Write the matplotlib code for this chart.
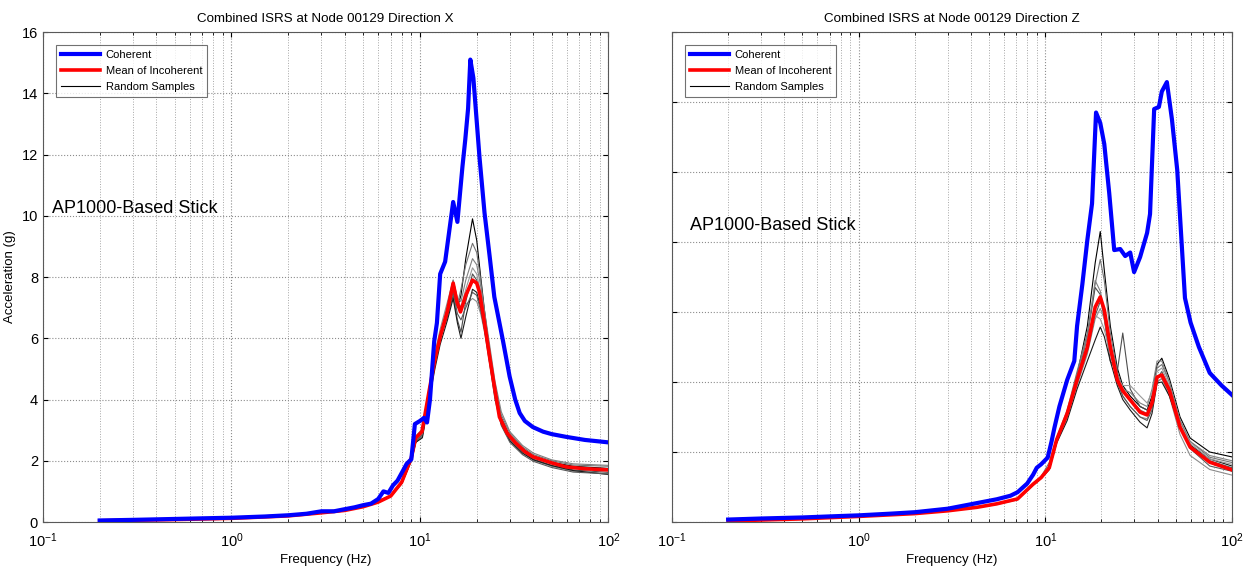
import matplotlib
matplotlib.use("Agg")
import matplotlib.pyplot as plt
from matplotlib.ticker import LogLocator, MultipleLocator, NullFormatter

plt.rcParams['font.family'] = ['Liberation Sans', 'DejaVu Sans']

# ---- Direction X ----
freq_coh_x = [0.2, 0.3, 0.5, 0.7, 1.0, 1.5, 2.0, 2.5, 3.0, 3.5, 4.0, 4.5, 5.0, 5.5, 6.0, 6.4, 6.8,
              7.2, 7.6, 8.0, 8.5, 9.0, 9.4, 10.0, 10.5, 10.9, 11.3, 11.9, 12.3, 12.8, 13.6, 14.3,
              15.0, 15.8, 16.8, 17.4, 18.0, 18.5, 19.2, 20.7, 22.0, 23.4, 24.8, 27.5, 29.9, 32.0,
              33.8, 36.0, 39.7, 45.0, 50.0, 59.7, 75.0, 100.0]
coh_x = [0.05, 0.07, 0.1, 0.12, 0.14, 0.18, 0.22, 0.27, 0.35, 0.35, 0.42, 0.48, 0.55, 0.6, 0.75,
         1.0, 0.95, 1.2, 1.35, 1.6, 1.9, 2.05, 3.2, 3.3, 3.4, 3.25, 4.0, 5.9, 6.5, 8.1, 8.5, 9.5,
         10.45, 9.8, 11.6, 12.5, 13.5, 15.1, 14.5, 11.9, 10.1, 8.7, 7.35, 5.95, 4.75, 4.0,
         3.56, 3.3, 3.1, 2.95, 2.87, 2.78, 2.68, 2.6]

freq_mean_x = [0.2, 0.5, 1.0, 2.0, 3.0, 4.0, 5.0, 6.0, 7.0, 8.0, 9.0, 9.5, 10.25, 11.2, 12.0, 12.8,
               14.0, 15.0, 15.7, 16.4, 17.5, 19.0, 20.0, 20.7, 22.0, 23.4, 25.0, 26.4, 29.0, 32.2,
               36.0, 39.7, 50.0, 59.7, 75.0, 100.0]
mean_x = [0.04, 0.08, 0.12, 0.2, 0.3, 0.38, 0.5, 0.65, 0.85, 1.3, 2.1, 2.75, 2.95, 4.3, 5.3, 6.05,
          6.9, 7.8, 7.2, 6.86, 7.4, 7.9, 7.8, 7.5, 6.5, 5.4, 4.3, 3.43, 2.9, 2.58, 2.3, 2.13, 1.93,
          1.8, 1.74, 1.7]

freq_samp_x = [0.2, 1.0, 3.0, 5.0, 7.0, 8.0, 9.0, 9.5, 10.3, 11.2, 12.0, 12.8, 14.0, 15.0, 15.8,
               16.5, 17.5, 19.0, 20.0, 21.0, 22.0, 23.4, 25.0, 27.0, 30.0, 35.0, 40.0, 50.0, 65.0, 100.0]
samples_x = [
    [0.04, 0.12, 0.3, 0.5, 0.85, 1.3, 2.1, 2.7, 2.9, 4.2, 5.2, 6.0, 6.9, 7.6, 7.0, 7.4, 8.6, 9.9, 9.2, 8.0, 6.9, 5.6, 4.4, 3.4, 2.8, 2.4, 2.15, 1.95, 1.82, 1.75],
    [0.04, 0.12, 0.3, 0.5, 0.85, 1.3, 2.1, 2.8, 3.0, 4.3, 5.3, 6.1, 7.0, 7.7, 7.1, 7.6, 8.4, 9.1, 8.8, 7.9, 6.8, 5.6, 4.4, 3.5, 2.9, 2.45, 2.2, 2.0, 1.86, 1.82],
    [0.04, 0.12, 0.3, 0.5, 0.84, 1.25, 2.0, 2.6, 2.8, 4.1, 5.2, 6.0, 6.7, 7.4, 6.6, 6.2, 7.2, 8.1, 7.9, 7.3, 6.5, 5.4, 4.2, 3.3, 2.7, 2.3, 2.05, 1.85, 1.7, 1.62],
    [0.04, 0.12, 0.3, 0.5, 0.86, 1.3, 2.1, 2.75, 3.0, 4.4, 5.5, 6.3, 7.2, 7.9, 7.3, 7.0, 7.1, 7.3, 7.2, 6.8, 6.2, 5.2, 4.1, 3.2, 2.65, 2.25, 2.02, 1.82, 1.66, 1.58],
    [0.04, 0.12, 0.29, 0.49, 0.83, 1.25, 2.0, 2.6, 2.75, 4.0, 5.0, 5.8, 6.6, 7.3, 6.5, 6.0, 6.7, 7.6, 7.5, 7.0, 6.3, 5.3, 4.1, 3.2, 2.65, 2.25, 2.03, 1.84, 1.68, 1.55],
    [0.04, 0.12, 0.31, 0.51, 0.86, 1.32, 2.15, 2.8, 3.05, 4.4, 5.4, 6.1, 7.1, 7.9, 7.3, 7.2, 7.9, 8.6, 8.4, 7.7, 6.9, 5.8, 4.6, 3.6, 2.95, 2.5, 2.25, 2.03, 1.9, 1.85],
    [0.04, 0.12, 0.3, 0.5, 0.85, 1.28, 2.05, 2.65, 2.85, 4.2, 5.2, 6.0, 6.8, 7.5, 6.8, 6.6, 7.0, 7.5, 7.4, 6.9, 6.3, 5.2, 4.0, 3.15, 2.6, 2.2, 1.98, 1.78, 1.63, 1.57],
    [0.04, 0.12, 0.3, 0.5, 0.85, 1.3, 2.1, 2.7, 2.9, 4.3, 5.3, 6.1, 7.0, 7.7, 7.2, 7.0, 7.6, 8.3, 8.1, 7.5, 6.7, 5.5, 4.3, 3.35, 2.75, 2.35, 2.1, 1.9, 1.75, 1.68],
]

# ---- Direction Z ----
freq_coh_z = [0.2, 0.3, 0.5, 0.7, 1.0, 1.5, 2.0, 3.0, 4.3, 5.5, 6.5, 7.1, 8.0, 8.6, 9.0, 9.5, 10.3,
              10.8, 11.2, 11.9, 13.1, 14.3, 14.8, 15.8, 16.8, 17.8, 18.7, 19.7, 20.7, 22.0, 23.4,
              25.2, 26.8, 28.5, 29.9, 32.2, 35.1, 36.4, 38.3, 40.6, 42.1, 44.8, 47.7, 50.9, 56.0,
              60.0, 66.5, 76.0, 88.0, 100.0]
coh_z = [0.07, 0.1, 0.13, 0.16, 0.19, 0.24, 0.28, 0.38, 0.54, 0.65, 0.75, 0.85, 1.1, 1.35, 1.55,
         1.65, 1.84, 2.3, 2.7, 3.3, 4.06, 4.6, 5.6, 6.8, 8.06, 9.1, 11.7, 11.4, 10.8, 9.4, 7.77,
         7.8, 7.6, 7.7, 7.14, 7.57, 8.26, 8.8, 11.8, 11.86, 12.3, 12.57, 11.5, 10.06, 6.4, 5.7,
         5.0, 4.26, 3.9, 3.63]

freq_z = [0.2, 0.5, 1.0, 2.0, 3.0, 4.3, 5.5, 7.1, 8.6, 9.5, 10.5, 11.5, 13.1, 14.8, 16.8, 18.5,
          19.7, 20.7, 22.3, 24.3, 26.0, 28.5, 32.2, 35.1, 37.3, 39.7, 42.1, 46.2, 52.7, 59.7, 76.0, 100.0]
mean_z = [0.03, 0.09, 0.16, 0.24, 0.32, 0.42, 0.52, 0.66, 1.08, 1.27, 1.55, 2.35, 3.1, 4.06, 5.0,
          6.14, 6.43, 6.06, 5.0, 4.06, 3.75, 3.49, 3.14, 3.06, 3.4, 4.14, 4.2, 3.77, 2.71, 2.14, 1.71, 1.49]
samples_z = [
    [0.03, 0.09, 0.16, 0.24, 0.32, 0.42, 0.52, 0.66, 1.05, 1.25, 1.6, 2.3, 3.1, 4.2, 5.6, 7.4, 8.3, 7.2, 5.6, 4.4, 3.9, 3.6, 3.3, 3.2, 3.6, 4.5, 4.68, 4.1, 3.0, 2.4, 2.0, 1.86],
    [0.03, 0.09, 0.16, 0.24, 0.32, 0.42, 0.52, 0.66, 1.08, 1.3, 1.7, 2.4, 3.2, 4.3, 5.4, 6.8, 7.5, 6.9, 5.4, 4.3, 3.8, 3.5, 3.2, 3.1, 3.5, 4.4, 4.5, 4.0, 2.9, 2.3, 1.85, 1.7],
    [0.03, 0.09, 0.16, 0.24, 0.32, 0.42, 0.52, 0.66, 1.06, 1.25, 1.5, 2.3, 3.0, 4.1, 5.3, 6.7, 6.5, 5.8, 4.6, 4.3, 5.4, 3.8, 3.3, 3.2, 3.4, 4.0, 4.1, 3.7, 2.7, 2.15, 1.75, 1.55],
    [0.03, 0.08, 0.15, 0.23, 0.31, 0.41, 0.5, 0.63, 1.05, 1.25, 1.5, 2.3, 3.0, 3.9, 4.8, 5.8, 6.1, 5.8, 4.9, 4.0, 3.6, 3.3, 3.0, 2.95, 3.3, 4.0, 4.1, 3.6, 2.5, 1.9, 1.5, 1.34],
    [0.03, 0.09, 0.16, 0.24, 0.32, 0.42, 0.52, 0.65, 1.07, 1.25, 1.5, 2.25, 2.9, 3.8, 4.6, 5.2, 5.57, 5.3, 4.6, 3.9, 3.5, 3.2, 2.85, 2.69, 3.1, 3.97, 4.0, 3.6, 2.7, 2.2, 1.8, 1.6],
    [0.03, 0.09, 0.16, 0.24, 0.32, 0.42, 0.52, 0.66, 1.08, 1.28, 1.6, 2.4, 3.1, 4.2, 5.3, 6.9, 6.6, 6.0, 5.1, 4.2, 3.8, 3.7, 3.4, 3.3, 3.8, 4.6, 4.6, 4.0, 2.9, 2.3, 1.9, 1.75],
    [0.03, 0.09, 0.16, 0.24, 0.32, 0.42, 0.52, 0.66, 1.08, 1.27, 1.55, 2.35, 3.05, 4.0, 4.9, 5.9, 6.3, 6.0, 5.0, 4.0, 3.6, 3.3, 3.0, 2.9, 3.2, 4.1, 4.3, 3.8, 2.7, 2.1, 1.6, 1.45],
    [0.03, 0.09, 0.16, 0.24, 0.32, 0.42, 0.52, 0.66, 1.1, 1.3, 1.6, 2.4, 3.15, 4.1, 5.0, 5.9, 5.8, 5.5, 4.8, 4.1, 3.9, 3.9, 3.6, 3.4, 3.7, 4.3, 4.4, 3.9, 2.8, 2.25, 1.8, 1.65],
]

sample_colors = ['0.0', '0.45', '0.3', '0.55', '0.1', '0.5', '0.35', '0.6']

fig = plt.figure(figsize=(12.52, 5.72), dpi=100)
ax1 = fig.add_axes([0.0343, 0.0874, 0.4517, 0.8566])
ax2 = fig.add_axes([0.5367, 0.0874, 0.4473, 0.8566])


def draw(ax, fc, coh, fm, mean, fs, samples, title):
    for i, s in enumerate(samples):
        lab = 'Random Samples' if i == 0 else None
        ax.plot(fs, s, color=sample_colors[i], lw=0.8, zorder=2, label=lab)
    ax.plot(fm, mean, color='red', lw=2.6, zorder=3, label='Mean of Incoherent')
    ax.plot(fc, coh, color='blue', lw=3.0, zorder=4, label='Coherent')
    ax.set_xscale('log')
    ax.set_xlim(0.1, 100)
    ax.xaxis.set_major_locator(LogLocator(base=10, numticks=10))
    ax.xaxis.set_minor_locator(LogLocator(base=10, subs=range(2, 10), numticks=100))
    ax.xaxis.set_minor_formatter(NullFormatter())
    ax.grid(True, which='major', axis='both', linestyle=':', color='0.55', lw=0.8)
    ax.grid(True, which='minor', axis='x', linestyle=':', color='0.65', lw=0.7)
    ax.tick_params(which='both', direction='in', top=True, right=True, labelsize=10.5)
    ax.tick_params(axis='x', pad=7)
    ax.set_xlabel('Frequency (Hz)', fontsize=9.5, labelpad=3)
    ax.set_title(title, fontsize=9.6, pad=7)
    h, l = ax.get_legend_handles_labels()
    order = [2, 1, 0]
    leg = ax.legend([h[k] for k in order], [l[k] for k in order], loc='upper left',
                    bbox_to_anchor=(0.004, 0.996), fontsize=8.0, fancybox=False,
                    edgecolor='0.3', handlelength=3.5, handletextpad=0.5,
                    borderaxespad=1.0, labelspacing=0.55, borderpad=0.45)
    leg.get_frame().set_linewidth(0.8)
    for sp in ax.spines.values():
        sp.set_color('0.35')


draw(ax1, freq_coh_x, coh_x, freq_mean_x, mean_x, freq_samp_x, samples_x,
     'Combined ISRS at Node 00129 Direction X')
ax1.set_ylim(0, 16)
ax1.yaxis.set_major_locator(MultipleLocator(2))
ax1.set_ylabel('Acceleration (g)', fontsize=9.5, labelpad=4)
ax1.text(0.016, 0.63, 'AP1000-Based Stick', transform=ax1.transAxes, fontsize=13)

draw(ax2, freq_coh_z, coh_z, freq_z, mean_z, freq_z, samples_z,
     'Combined ISRS at Node 00129 Direction Z')
ax2.set_ylim(0, 14)
ax2.yaxis.set_major_locator(MultipleLocator(2))
ax2.tick_params(axis='y', labelleft=False)
ax2.text(0.032, 0.596, 'AP1000-Based Stick', transform=ax2.transAxes, fontsize=13)

fig.savefig('out.png', dpi=100)
